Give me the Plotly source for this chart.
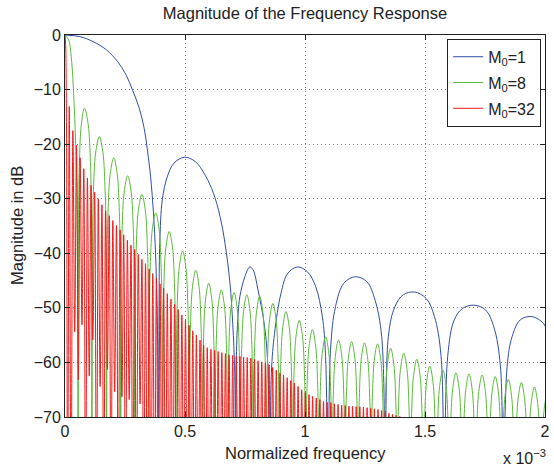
import plotly.graph_objects as go

# ---------------- data (x in units of 1e-3 normalized frequency, y in dB) ----------------
X_TICKS = [0, 0.5, 1, 1.5, 2]
X_TICK_TEXT = ["0", "0.5", "1", "1.5", "2"]
Y_TICKS = [0, -10, -20, -30, -40, -50, -60, -70]

# M0 = 1 (-90 marks an off-scale null)
BLUE_X = [0, 0.0619, 0.1167, 0.1720, 0.2198, 0.2544, 0.2816, 0.3093, 0.3299, 0.3443,
          0.3567, 0.3691, 0.3773, 0.3835, 0.3876, 0.3901, 0.3920, 0.3950, 0.4054, 0.4260,
          0.4536, 0.4990, 0.5431, 0.5843, 0.6186, 0.6462, 0.6668, 0.6874, 0.6990, 0.7072,
          0.7105, 0.7146, 0.7216, 0.7287, 0.7493, 0.7699, 0.7835, 0.8041, 0.8318, 0.8454,
          0.8528, 0.8598, 0.8730, 0.9002, 0.9278, 0.9691, 1.0103, 1.0445, 1.0722, 1.0858,
          1.0961, 1.1064, 1.1270, 1.1616, 1.2095, 1.2577, 1.2920, 1.3196, 1.3361, 1.3472,
          1.3744, 1.4091, 1.4569, 1.5052, 1.5394, 1.5670, 1.5794, 1.5946, 1.6219, 1.6565,
          1.7043, 1.7526, 1.7868, 1.8144, 1.8247, 1.8421, 1.8627, 1.8969, 1.9452, 1.9930,
          2.0082]
BLUE_DB = [0, -0.3, -1.2, -2.7, -4.9, -7.3, -10.1, -13.4, -17.1, -21.4,
           -26.0, -33.0, -40.0, -50.0, -62.0, -90, -48.0, -38.0, -30.2, -26.0,
           -23.5, -22.4, -23.2, -25.7, -29.0, -33.3, -38.2, -45.5, -53.0, -62.0,
           -90, -58.0, -51.0, -47.9, -44.3, -42.5, -43.0, -46.7, -53.5, -60.8,
           -90, -62.0, -54.7, -47.3, -43.7, -42.5, -43.4, -46.1, -51.6, -58.9,
           -90, -57.7, -49.8, -45.5, -44.3, -45.2, -48.6, -55.3, -90, -55.3,
           -49.8, -47.6, -47.1, -48.3, -51.6, -58.9, -90, -58.9, -52.2, -50.1,
           -49.5, -50.4, -53.5, -60.8, -90, -60.8, -55.3, -52.2, -51.6, -52.8,
           -54.2]

# M0 = 8
GREEN_MAIN_X = [0.0, 0.0153, 0.0260, 0.0330, 0.0384, 0.0425, 0.0466, 0.0507]
GREEN_MAIN_DB = [0.0, -0.9, -4.0, -8.2, -13.1, -17.4, -22.9, -32.0]
GREEN_NULL_X = [0.0548, 0.1122, 0.1732, 0.2322, 0.2907, 0.3493, 0.4062, 0.4619, 0.5175, 0.5720,
                0.6247, 0.6779, 0.7307, 0.7843, 0.8384, 0.8932, 0.9485, 1.0033, 1.0581, 1.1126,
                1.1670, 1.2210, 1.2751, 1.3295, 1.3839, 1.4388, 1.4928, 1.5472, 1.6016, 1.6561,
                1.7105, 1.7653, 1.8198, 1.8742, 1.9287, 1.9831, 2.0375]
GREEN_NULL_DB = [-90, -90, -90, -90, -90, -90, -90, -90, -90, -90,
                 -90, -90, -90, -90, -90, -90, -90, -90, -90, -90,
                 -90, -90, -90, -90, -90, -90, -90, -90, -90, -90,
                 -90, -90, -90, -90, -90, -90, -90]
GREEN_PEAK_X = [0.0812, 0.1431, 0.2033, 0.2610, 0.3204, 0.3781, 0.4342, 0.4899, 0.5452, 0.5988,
                0.6511, 0.7043, 0.7575, 0.8111, 0.8660, 0.9208, 0.9761, 1.0309, 1.0858, 1.1398,
                1.1942, 1.2478, 1.3023, 1.3567, 1.4115, 1.4660, 1.5200, 1.5744, 1.6289, 1.6833,
                1.7381, 1.7926, 1.8470, 1.9014, 1.9559, 2.0103]
GREEN_PEAK_DB = [-13.4, -18.6, -22.5, -25.8, -29.2, -32.6, -36.0, -39.6, -43.1, -45.5,
                 -46.7, -47.2, -47.6, -47.9, -49.2, -50.7, -52.3, -54.0, -55.3, -55.9,
                 -56.2, -56.4, -56.6, -57.4, -58.3, -59.4, -60.7, -61.4, -61.9, -62.1,
                 -62.3, -62.6, -63.1, -63.7, -64.5, -65.5]

# M0 = 32
RED_MAIN_X = [0.0, 0.0030]
RED_MAIN_DB = [0.0, -2.0]
RED_PEAK_X = [0.0177, 0.0329, 0.0480, 0.0631, 0.0783, 0.0934, 0.1085, 0.1237, 0.1388, 0.1539,
              0.1691, 0.1842, 0.1993, 0.2145, 0.2296, 0.2447, 0.2599, 0.2750, 0.2901, 0.3053,
              0.3204, 0.3355, 0.3507, 0.3658, 0.3809, 0.3961, 0.4112, 0.4263, 0.4415, 0.4566,
              0.4718, 0.4869, 0.5020, 0.5172, 0.5323, 0.5474, 0.5626, 0.5777, 0.5928, 0.6080,
              0.6231, 0.6382, 0.6534, 0.6685, 0.6836, 0.6988, 0.7139, 0.7290, 0.7442, 0.7593,
              0.7744, 0.7896, 0.8047, 0.8198, 0.8350, 0.8501, 0.8652, 0.8804, 0.8955, 0.9106,
              0.9258, 0.9409, 0.9560, 0.9712, 0.9863, 1.0014, 1.0166, 1.0317, 1.0468, 1.0620,
              1.0771, 1.0923, 1.1074, 1.1225, 1.1377, 1.1528, 1.1679, 1.1831, 1.1982, 1.2133,
              1.2285, 1.2436, 1.2587, 1.2739, 1.2890, 1.3041, 1.3193, 1.3344, 1.3495, 1.3647,
              1.3798, 1.3949]
RED_PEAK_DB = [-13.1, -17.5, -20.2, -22.5, -24.5, -26.2, -27.5, -28.8, -30.0, -31.1,
               -32.2, -33.1, -34.0, -34.9, -35.7, -36.6, -37.6, -38.5, -39.3, -40.2,
               -41.1, -41.9, -42.9, -43.7, -44.5, -45.6, -46.4, -47.4, -48.4, -49.3,
               -50.3, -51.3, -52.2, -53.2, -54.2, -55.0, -55.9, -56.8, -57.3, -57.6,
               -57.8, -58.0, -58.2, -58.4, -58.6, -58.7, -58.8, -58.9, -59.0, -59.1,
               -59.2, -59.4, -59.7, -59.9, -60.1, -60.4, -60.9, -61.4, -61.9, -62.3,
               -62.8, -63.3, -63.8, -64.4, -65.0, -65.5, -65.9, -66.2, -66.5, -66.8,
               -67.1, -67.3, -67.4, -67.6, -67.7, -67.8, -67.9, -68.0, -68.0, -68.1,
               -68.1, -68.2, -68.3, -68.4, -68.5, -68.6, -68.8, -69.0, -69.3, -69.5,
               -69.7, -69.9]
RED_NULL_X = [0.0107, 0.0253, 0.0405, 0.0556, 0.0707, 0.0859, 0.1010, 0.1161, 0.1313, 0.1464,
              0.1615, 0.1767, 0.1918, 0.2069, 0.2221, 0.2372, 0.2523, 0.2675, 0.2826, 0.2977,
              0.3129, 0.3280, 0.3431, 0.3583, 0.3734, 0.3885, 0.4037, 0.4188, 0.4339, 0.4491,
              0.4642, 0.4794, 0.4945, 0.5096, 0.5248, 0.5399, 0.5550, 0.5702, 0.5853, 0.6004,
              0.6156, 0.6307, 0.6458, 0.6610, 0.6761, 0.6912, 0.7064, 0.7215, 0.7366, 0.7518,
              0.7669, 0.7820, 0.7972, 0.8123, 0.8274, 0.8426, 0.8577, 0.8728, 0.8880, 0.9031,
              0.9182, 0.9334, 0.9485, 0.9636, 0.9788, 0.9939, 1.0090, 1.0242, 1.0393, 1.0544,
              1.0696, 1.0847, 1.0999, 1.1150, 1.1301, 1.1453, 1.1604, 1.1755, 1.1907, 1.2058,
              1.2209, 1.2361, 1.2512, 1.2663, 1.2815, 1.2966, 1.3117, 1.3269, 1.3420, 1.3571,
              1.3723, 1.3874, 1.4025]
RED_NULL_DB = [-90, -90, -54.4, -63.2, -53.1, -90, -62.5, -55.9, -90, -64.4,
               -90, -61.3, -90, -65.4, -90, -66.3, -90, -66.8, -90, -90,
               -67.6, -90, -90, -90, -90, -90, -90, -90, -90, -90,
               -90, -90, -90, -90, -90, -90, -90, -90, -90, -90,
               -90, -90, -90, -90, -90, -90, -90, -90, -90, -90,
               -90, -90, -90, -90, -90, -90, -90, -90, -90, -90,
               -90, -90, -90, -90, -90, -90, -90, -90, -90, -90,
               -90, -90, -90, -90, -90, -90, -90, -90, -90, -90,
               -90, -90, -90, -90, -90, -90, -90, -90, -90, -90,
               -90, -90, -90]

SERIES_NAMES = ["M<sub>0</sub>=1", "M<sub>0</sub>=8", "M<sub>0</sub>=32"]

# ---------------- style ----------------
COLORS = ["#2f4fa8", "#5cba3c", "#f01a1a"]
FONT = "Liberation Sans, Arial, Helvetica, sans-serif"
TXT = "#222"
# arch profile of a sidelobe (fraction of null-to-peak distance, dB below the peak)
LOBE_FRAC = [0.1, 0.2, 0.5]
LOBE_DROP = [-16.0, -10.0, -3.0]


def lobes(null_x, null_db, peak_x, peak_db, shaped):
    xs, ys = [null_x[0]], [null_db[0]]
    for i in range(len(peak_x)):
        L, R, C, P = null_x[i], null_x[i + 1], peak_x[i], peak_db[i]
        if shaped:
            for f, d in zip(LOBE_FRAC, LOBE_DROP):
                xs.append(L + f * (C - L)); ys.append(P + d)
        xs.append(C); ys.append(P)
        if shaped:
            for f, d in zip(reversed(LOBE_FRAC), reversed(LOBE_DROP)):
                xs.append(R - f * (R - C)); ys.append(P + d)
        xs.append(R); ys.append(null_db[i + 1])
    return xs, ys


gx, gy = lobes(GREEN_NULL_X, GREEN_NULL_DB, GREEN_PEAK_X, GREEN_PEAK_DB, True)
rx, ry = lobes(RED_NULL_X, RED_NULL_DB, RED_PEAK_X, RED_PEAK_DB, False)

fig = go.Figure()
fig.add_trace(go.Scatter(x=BLUE_X, y=BLUE_DB, mode="lines", name=SERIES_NAMES[0],
                         legendgroup="a", line=dict(color=COLORS[0], width=1, shape="spline")))
fig.add_trace(go.Scatter(x=GREEN_MAIN_X + gx, y=GREEN_MAIN_DB + gy, mode="lines", name=SERIES_NAMES[1],
                         legendgroup="b", line=dict(color=COLORS[1], width=1, shape="spline")))
fig.add_trace(go.Scatter(x=RED_MAIN_X + rx, y=RED_MAIN_DB + ry, mode="lines", name=SERIES_NAMES[2],
                         legendgroup="c", line=dict(color=COLORS[2], width=1, shape="spline")))

axis_common = dict(
    ticks="inside", ticklen=5, tickcolor=TXT, showline=True, linecolor=TXT,
    linewidth=1, mirror="ticks", showgrid=True, gridcolor="#808080", griddash="1px,3px",
    gridwidth=1, zeroline=False, tickfont=dict(family=FONT, size=16, color=TXT),
    ticklabeloverflow="allow",
)

fig.update_layout(
    width=554, height=467,
    margin=dict(l=65, r=4, t=35, b=50),
    paper_bgcolor="white", plot_bgcolor="white",
    font=dict(family=FONT, size=16, color=TXT),
    title=dict(text="Magnitude of the Frequency Response", x=0.5, xref="paper", xanchor="center",
               y=1 - 13 / 467, yref="container", yanchor="middle",
               font=dict(family=FONT, size=16.5, color=TXT)),
    xaxis=dict(range=[0, 2], tickvals=X_TICKS, ticktext=X_TICK_TEXT, **axis_common),
    yaxis=dict(range=[-70, 0], tickvals=Y_TICKS, **axis_common),
    showlegend=True,
    legend=dict(x=0.992, y=0.99, xanchor="right", yanchor="top", bgcolor="white",
                bordercolor=TXT, borderwidth=1, font=dict(family=FONT, size=16, color=TXT),
                tracegroupgap=2, itemwidth=30),
    hovermode=False,
    annotations=[
        dict(text="Normalized frequency", xref="paper", yref="paper", x=0.5, y=0,
             xanchor="center", yanchor="top", yshift=-25, showarrow=False,
             font=dict(family=FONT, size=16.5, color=TXT)),
        dict(text="Magnitude in dB", xref="paper", yref="paper", x=0, y=0.5,
             xanchor="center", yanchor="middle", xshift=-48, textangle=-90, showarrow=False,
             font=dict(family=FONT, size=16.5, color=TXT)),
        dict(text="x 10<sup>−3</sup>", xref="paper", yref="paper", x=1, y=0,
             xanchor="right", yanchor="top", xshift=3, yshift=-28, showarrow=False,
             font=dict(family=FONT, size=16, color=TXT)),
    ],
)

fig.write_html("out.html", config={"displayModeBar": False},
               post_script="document.body.style.margin='0px';")
